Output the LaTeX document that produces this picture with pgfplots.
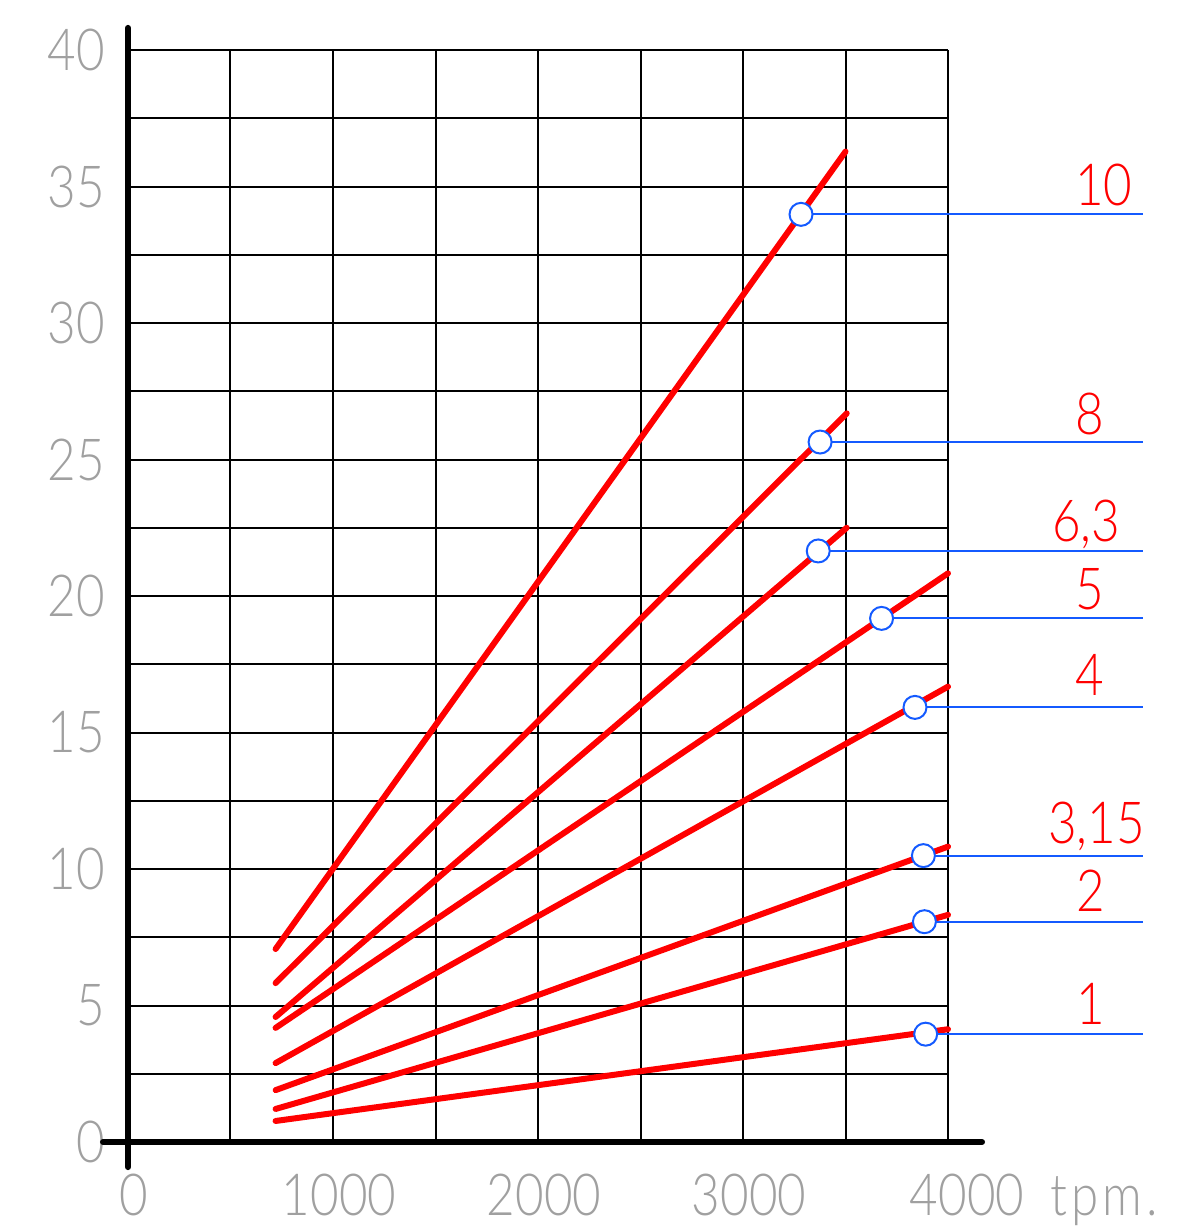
\documentclass[border=0pt]{standalone}
\usepackage{fontspec}
\IfFontExistsTF{Lato Light}
  {\setmainfont{Lato Light}[FakeStretch=0.85]}
  {\IfFontExistsTF{Open Sans Light}
    {\setmainfont{Open Sans Light}[FakeStretch=0.82]}
    {\IfFontExistsTF{Noto Sans Light}
      {\setmainfont{Noto Sans Light}[FakeStretch=0.82]}
      {\setmainfont{DejaVu Sans}[FakeStretch=0.82]}}}
\newcommand\lblfont{\fontsize{58}{60}\selectfont}
\usepackage{pgfplots}
\pgfplotsset{compat=1.18}
\definecolor{tickgray}{RGB}{160,160,160}
\definecolor{lblue}{RGB}{20,90,255}

\begin{document}
\begin{tikzpicture}
\begin{axis}[
    scale only axis,
    width=820pt, height=1092pt,
    xmin=0, xmax=4000, ymin=0, ymax=40,
    xtick={0,500,...,4000},
    ytick={0,2.5,...,40},
    xticklabels={0,,1000,,2000,,3000,,{\hspace{26pt}4000\rlap{\hspace{26pt}\addfontfeature{LetterSpace=7}tpm.}}},
    yticklabels={0,,5,,10,,15,,20,,25,,30,,35,,40},
    grid=major,
    major grid style={black, line width=2pt},
    axis line style={draw=none},
    major tick length=0pt,
    clip=false,
    ticklabel style={font=\lblfont, text=tickgray, inner sep=0pt},
    xticklabel style={anchor=north, yshift=-32pt, xshift=6pt},
    yticklabel style={anchor=east, xshift=-23pt},
]

% red lines, one per label
\addplot [red, line width=6pt, line cap=round] coordinates {(720,7.07) (3500,36.28)};  % 10
\addplot [red, line width=6pt, line cap=round] coordinates {(720,5.82) (3506,26.69)};  % 8
\addplot [red, line width=6pt, line cap=round] coordinates {(720,4.58) (3506,22.50)};  % 6,3
\addplot [red, line width=6pt, line cap=round] coordinates {(720,4.18) (4000,20.83)};  % 5
\addplot [red, line width=6pt, line cap=round] coordinates {(720,2.89) (4000,16.68)};  % 4
\addplot [red, line width=6pt, line cap=round] coordinates {(720,1.90) (4000,10.82)};  % 3,15
\addplot [red, line width=6pt, line cap=round] coordinates {(720,1.21) (4000,8.32)};   % 2
\addplot [red, line width=6pt, line cap=round] coordinates {(720,0.77) (4000,4.13)};   % 1

% blue leader lines
\addplot [lblue, line width=1.8pt] coordinates {(3283,33.98) (4951,33.98)};
\addplot [lblue, line width=1.8pt] coordinates {(3376,25.64) (4951,25.64)};
\addplot [lblue, line width=1.8pt] coordinates {(3367,21.65) (4951,21.65)};
\addplot [lblue, line width=1.8pt] coordinates {(3676,19.18) (4951,19.18)};
\addplot [lblue, line width=1.8pt] coordinates {(3839,15.92) (4951,15.92)};
\addplot [lblue, line width=1.8pt] coordinates {(3880,10.49) (4951,10.49)};
\addplot [lblue, line width=1.8pt] coordinates {(3885,8.07) (4951,8.07)};
\addplot [lblue, line width=1.8pt] coordinates {(3891,3.95) (4951,3.95)};

% circles
\addplot [only marks, mark=*, mark size=11.5pt,
    mark options={draw=lblue, fill=white, line width=2pt}]
    coordinates {(3283,33.98) (3376,25.64) (3367,21.65) (3676,19.18)
                 (3839,15.92) (3880,10.49) (3885,8.07) (3891,3.95)};

% labels
\node [anchor=base west, text=red, font=\lblfont, inner sep=0pt] at (axis cs:4620,34.32) {10};
\node [anchor=base west, text=red, font=\lblfont, inner sep=0pt] at (axis cs:4620,25.90) {8};
\node [anchor=base west, text=red, font=\lblfont, inner sep=0pt] at (axis cs:4507,21.98) {6,3};
\node [anchor=base west, text=red, font=\lblfont, inner sep=0pt] at (axis cs:4620,19.49) {5};
\node [anchor=base west, text=red, font=\lblfont, inner sep=0pt] at (axis cs:4620,16.34) {4};
\node [anchor=base west, text=red, font=\lblfont, inner sep=0pt] at (axis cs:4488,10.95) {3,15};
\node [anchor=base west, text=red, font=\lblfont, inner sep=0pt] at (axis cs:4625,8.46) {2};
\node [anchor=base west, text=red, font=\lblfont, inner sep=0pt] at (axis cs:4625,4.29) {1};

% thick axes
\draw [black, line width=6pt, line cap=round] (axis cs:0,-0.92) -- (axis cs:0,40.81);
\draw [black, line width=6pt, line cap=round] (axis cs:-122,0) -- (axis cs:4166,0);
\end{axis}
\pgfresetboundingbox
\path [use as bounding box] (current axis.south west) ++(-128pt,-86pt) rectangle ++(1192pt,1228pt);
\end{tikzpicture}
\end{document}
